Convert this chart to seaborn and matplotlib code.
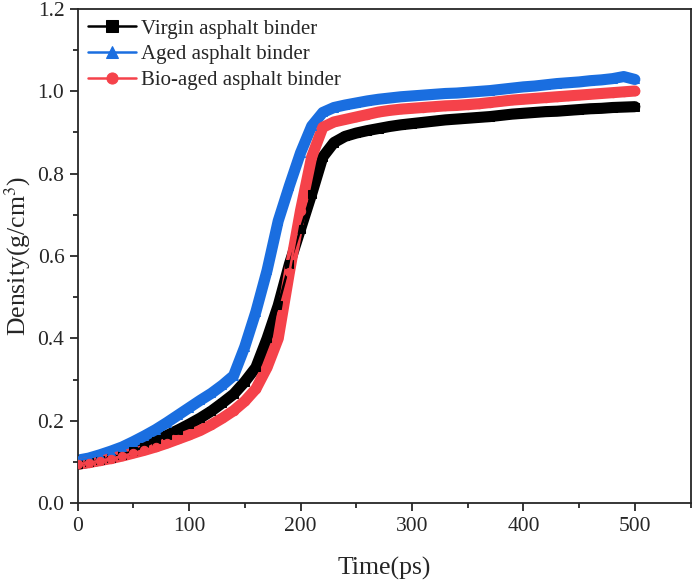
import numpy as np
import pandas as pd
import matplotlib
matplotlib.use("Agg")
import matplotlib.pyplot as plt
from matplotlib.ticker import MultipleLocator, FormatStrFormatter
import seaborn as sns

# time axis (ps), one reading every 10 ps
time_ps = list(range(0, 510, 10))

virgin = [0.095, 0.100, 0.105, 0.111, 0.118, 0.127, 0.138, 0.152, 0.165, 0.178,
          0.192, 0.207, 0.224, 0.244, 0.265, 0.295, 0.330, 0.400, 0.480, 0.580,
          0.665, 0.750, 0.840, 0.875, 0.890, 0.898, 0.904, 0.909, 0.914, 0.918,
          0.921, 0.924, 0.927, 0.930, 0.932, 0.934, 0.936, 0.938, 0.941, 0.944,
          0.946, 0.948, 0.950, 0.951, 0.953, 0.955, 0.957, 0.958, 0.960, 0.961,
          0.962]

aged = [0.105, 0.110, 0.118, 0.127, 0.137, 0.150, 0.164, 0.179, 0.196, 0.214,
        0.232, 0.250, 0.267, 0.287, 0.310, 0.380, 0.465, 0.565, 0.685, 0.770,
        0.850, 0.915, 0.948, 0.960, 0.966, 0.971, 0.976, 0.980, 0.983, 0.986,
        0.988, 0.990, 0.992, 0.994, 0.995, 0.997, 0.999, 1.001, 1.004, 1.007,
        1.010, 1.012, 1.015, 1.018, 1.020, 1.022, 1.025, 1.027, 1.030, 1.035,
        1.028]

bio_aged = [0.095, 0.099, 0.104, 0.109, 0.115, 0.122, 0.129, 0.137, 0.146, 0.156,
            0.166, 0.177, 0.191, 0.207, 0.225, 0.248, 0.278, 0.330, 0.400, 0.560,
            0.710, 0.840, 0.912, 0.925, 0.931, 0.937, 0.943, 0.949, 0.953, 0.956,
            0.958, 0.960, 0.962, 0.964, 0.965, 0.967, 0.969, 0.972, 0.975, 0.978,
            0.980, 0.982, 0.984, 0.986, 0.988, 0.990, 0.992, 0.994, 0.996, 0.998,
            1.000]

series_names = ["Virgin asphalt binder", "Aged asphalt binder", "Bio-aged asphalt binder"]
series_values = [virgin, aged, bio_aged]
series_colors = ["#000000", "#1a6ee0", "#f5424a"]
series_markers = ["s", "^", "o"]

sns.set_style("ticks")
plt.rcParams["font.family"] = ["Liberation Serif", "DejaVu Serif"]
plt.rcParams["mathtext.fontset"] = "stix"

fig = plt.figure(figsize=(6.93, 5.83), dpi=100)
ax = fig.add_axes([0.112, 0.1364, 0.8845, 0.849])

for name, vals, col, mk in zip(series_names, series_values, series_colors, series_markers):
    df = pd.DataFrame({"t": time_ps, "v": vals})
    # thick band underneath to mimic the dense marker trail
    ax.plot(df["t"], df["v"], color=col, lw=8, solid_capstyle="round",
            solid_joinstyle="round", zorder=2)
    sns.lineplot(data=df, x="t", y="v", ax=ax, color=col, marker=mk,
                 markersize=6, markeredgecolor=col, lw=1.8, label=name, zorder=3)

ax.set_xlim(0, 550)
ax.set_ylim(0, 1.2)
ax.xaxis.set_major_locator(MultipleLocator(100))
ax.xaxis.set_minor_locator(MultipleLocator(50))
ax.yaxis.set_major_locator(MultipleLocator(0.2))
ax.yaxis.set_minor_locator(MultipleLocator(0.1))
ax.yaxis.set_major_formatter(FormatStrFormatter("%.1f"))
ax.tick_params(which="major", direction="out", length=6, width=1.3, labelsize=15.5,
               top=False, right=False)
ax.tick_params(which="minor", direction="out", length=3.5, width=1.3,
               top=False, right=False)
for sp in ax.spines.values():
    sp.set_linewidth(1.3)
    sp.set_visible(True)

ax.set_xlabel("Time(ps)", fontsize=18.5, labelpad=15)
ax.set_ylabel("Density(g/cm$^3$)", fontsize=18.5, labelpad=3)

leg = ax.legend(loc="upper left", frameon=False, fontsize=15, handlelength=2.3,
                handletextpad=0.25, labelspacing=0.3, borderaxespad=0.1,
                bbox_to_anchor=(0.0, 1.0))
for h in leg.legend_handles:
    h.set_markersize(8)

fig.savefig("out.png", dpi=100)
